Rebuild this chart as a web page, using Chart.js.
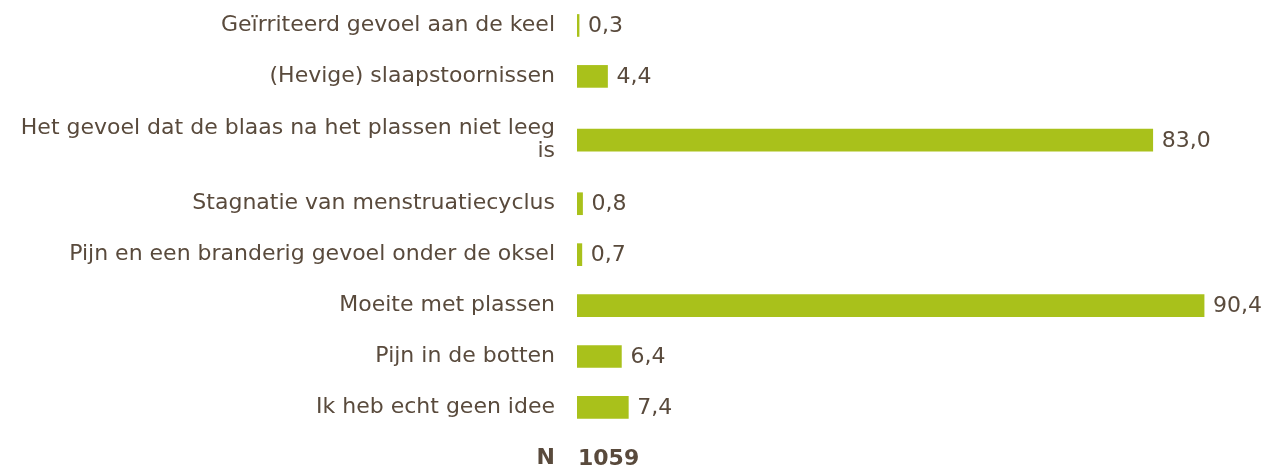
<!DOCTYPE html>
<html>
<head>
<meta charset="utf-8">
<script src="https://cdn.jsdelivr.net/npm/chart.js@4"></script>
<style>
	html, body { margin: 0; padding: 0; background: #ffffff; }
	#wrap { width: 1269px; height: 466px; position: relative; }
</style>
</head>
<body>
<div id="wrap"><canvas id="chart-symptoms"></canvas></div>
<script>
const CATEGORIES = [
	"Geïrriteerd gevoel aan de keel",
	"(Hevige) slaapstoornissen",
	["Het gevoel dat de blaas na het plassen niet leeg", "is"],
	"Stagnatie van menstruatiecyclus",
	"Pijn en een branderig gevoel onder de oksel",
	"Moeite met plassen",
	"Pijn in de botten",
	"Ik heb echt geen idee",
];
const VALUES = [0.3, 4.4, 83.0, 0.8, 0.7, 90.4, 6.4, 7.4];
const N_LABEL = "N";
const N_VALUE = 1059;

const COLORS = {
	bar: "#a9c11b",
	text: "#594a3c",
};
const FONT = "'DejaVu Sans', Verdana, sans-serif";
const FONT_SIZE = 22;

// ----------------------------------------------
// Row positions: a label with extra lines takes half a row more per line
// ----------------------------------------------
const lineCount = (label) => (Array.isArray(label) ? label.length : 1);
const ROW_POS = [];
let cursor = 0;
CATEGORIES.forEach((label) => {
	const h = 1 + (lineCount(label) - 1) * 0.5;
	ROW_POS.push(cursor + h / 2);
	cursor += h;
});
const N_POS = cursor + 0.5;
const TICK_POS = [...ROW_POS, N_POS];
const TICK_LABELS = [...CATEGORIES, N_LABEL];

const formatValue = (v) => v.toFixed(1).replace(".", ",");

// Value labels next to the bars, and the N count
const valueLabels = {
	id: "valueLabels",
	afterDatasetsDraw(chart) {
		const { ctx } = chart;
		const meta = chart.getDatasetMeta(0);
		ctx.save();
		ctx.fillStyle = COLORS.text;
		ctx.textBaseline = "middle";
		ctx.textAlign = "left";
		ctx.font = FONT_SIZE + "px " + FONT;
		meta.data.forEach((bar, i) => {
			ctx.fillText(formatValue(VALUES[i]), bar.x + 9, bar.y + 1);
		});
		ctx.font = "bold " + FONT_SIZE + "px " + FONT;
		const x0 = chart.scales.x.getPixelForValue(0);
		const yN = chart.scales.y.getPixelForValue(N_POS);
		ctx.fillText(String(N_VALUE), x0 + 1, yN + 1);
		ctx.restore();
	},
};

const CHART_DATA = {
	datasets: [
		{
			label: "Percentage",
			data: VALUES.map((v, i) => ({ x: v, y: ROW_POS[i] })),
			backgroundColor: COLORS.bar,
			borderWidth: 0,
			barThickness: 22,
		},
	],
};

const CHART_CONFIG = {
	type: "bar",
	data: CHART_DATA,
	options: {
		indexAxis: "y",
		responsive: true,
		maintainAspectRatio: false,
		animation: false,
		layout: {
			padding: { left: 0, right: 33, top: 0, bottom: 0 },
		},
		plugins: {
			legend: { display: false },
			title: { display: false },
			tooltip: { enabled: false },
		},
		scales: {
			x: {
				type: "linear",
				display: false,
				min: 0,
				max: 95,
			},
			y: {
				type: "linear",
				reverse: true,
				offset: false,
				min: 0,
				max: N_POS + 0.15,
				border: { display: false },
				grid: { display: false, drawTicks: false },
				afterBuildTicks: (scale) => {
					scale.ticks = TICK_POS.map((v) => ({ value: v }));
				},
				afterFit: (scale) => {
					// fixed axis width, and no extra room for the label heights
					scale.width = 577;
					scale.paddingTop = 0;
					scale.paddingBottom = 0;
				},
				ticks: {
					padding: 22,
					color: COLORS.text,
					font: (ctx) => ({
						family: FONT,
						size: FONT_SIZE,
						lineHeight: 1.05,
						weight: ctx.index === TICK_POS.length - 1 ? "bold" : "normal",
					}),
					callback: (value, index) => TICK_LABELS[index],
				},
			},
		},
	},
	plugins: [valueLabels],
};

const CHART_WRAPPER = document.getElementById("chart-symptoms");
if (CHART_WRAPPER) {
	new Chart(CHART_WRAPPER, CHART_CONFIG);
}
</script>
</body>
</html>
